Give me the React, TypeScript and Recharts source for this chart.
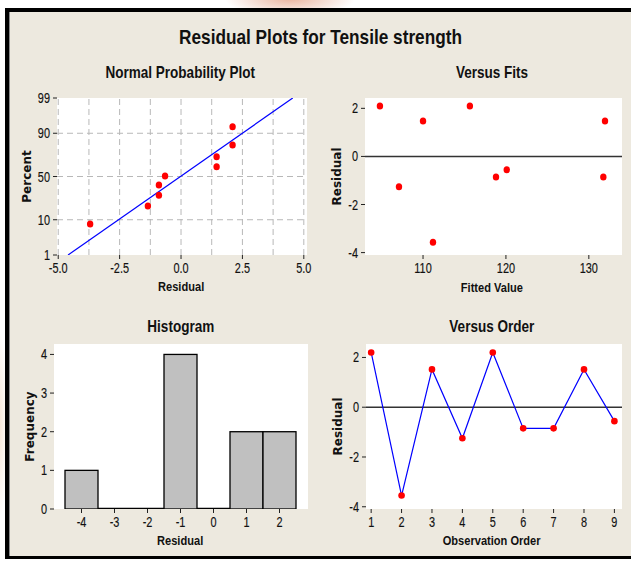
import React from "react";
import {
  ComposedChart,
  ScatterChart,
  LineChart,
  BarChart,
  Scatter,
  Line,
  Bar,
  XAxis,
  YAxis,
  CartesianGrid,
  ReferenceLine,
  ReferenceArea,
} from "recharts";

// Normal probability plot (sorted residuals vs. plotting position, %)
const probResiduals = [-3.7, -1.35, -0.9, -0.9, -0.65, 1.45, 1.45, 2.1, 2.1];
const probPercents = [8, 19, 29, 40, 50.5, 61.5, 72, 82.5, 93];
const fitLineResiduals = [-4.6, 4.55];
const fitLinePercents = [1, 99];
const probTicks = [1, 10, 50, 90, 99];
const probGridPercents = [10, 50, 90];
const probXTicks = [-5, -2.5, 0, 2.5, 5];
const probGridX = [-5, -3.75, -2.5, -1.25, 0, 1.25, 2.5, 3.75, 5];

// Versus fits
const fittedValues = [104.8, 107.1, 110.0, 111.2, 115.65, 118.8, 120.1, 131.75, 131.95];
const fitResiduals = [2.1, -1.26, 1.47, -3.57, 2.1, -0.86, -0.55, -0.86, 1.47];
const fitTicks = [110, 120, 130];

// Histogram
const binCenters = ["-4", "-3", "-2", "-1", "0", "1", "2"];
const binCounts = [1, 0, 0, 4, 0, 2, 2];
const freqTicks = [0, 1, 2, 3, 4];

// Versus order
const observationOrder = [1, 2, 3, 4, 5, 6, 7, 8, 9];
const orderResiduals = [2.2, -3.55, 1.52, -1.25, 2.2, -0.85, -0.85, 1.52, -0.56];

const residualTicks = [-4, -2, 0, 2];

const SANS = "'Liberation Sans', Arial, sans-serif";
const WIDE = "'DejaVu Sans', Verdana, sans-serif";
const INK = "#111";
const SQUEEZE = 0.82;

// inverse normal cdf (Acklam)
function normInv(p: number): number {
  const a = [-39.69683028665376, 220.9460984245205, -275.9285104469687, 138.357751867269, -30.66479806614716, 2.506628277459239];
  const b = [-54.47609879822406, 161.5858368580409, -155.6989798598866, 66.80131188771972, -13.28068155288572];
  const c = [-0.007784894002430293, -0.3223964580411365, -2.400758277161838, -2.549732539343734, 4.374664141464968, 2.938163982698783];
  const d = [0.007784695709041462, 0.3224671290700398, 2.445134137142996, 3.754408661907416];
  const pl = 0.02425;
  if (p < pl) {
    const q = Math.sqrt(-2 * Math.log(p));
    return (((((c[0] * q + c[1]) * q + c[2]) * q + c[3]) * q + c[4]) * q + c[5]) / ((((d[0] * q + d[1]) * q + d[2]) * q + d[3]) * q + 1);
  }
  if (p > 1 - pl) {
    const q = Math.sqrt(-2 * Math.log(1 - p));
    return -(((((c[0] * q + c[1]) * q + c[2]) * q + c[3]) * q + c[4]) * q + c[5]) / ((((d[0] * q + d[1]) * q + d[2]) * q + d[3]) * q + 1);
  }
  const q = p - 0.5;
  const r = q * q;
  return ((((((a[0] * r + a[1]) * r + a[2]) * r + a[3]) * r + a[4]) * r + a[5]) * q) / (((((b[0] * r + b[1]) * r + b[2]) * r + b[3]) * r + b[4]) * r + 1);
}

const z = (pct: number) => normInv(pct / 100);

const probPoints = probResiduals.map((r, i) => ({ residual: r, z: z(probPercents[i]) }));
const fitLine = fitLineResiduals.map((r, i) => ({ residual: r, z: z(fitLinePercents[i]) }));
const fitsData = fittedValues.map((f, i) => ({ fit: f, residual: fitResiduals[i] }));
const histData = binCenters.map((b, i) => ({ bin: b, count: binCounts[i] }));
const orderData = observationOrder.map((o, i) => ({ order: o, residual: orderResiduals[i] }));

const tickStyle = { fontFamily: SANS, fontSize: 14, fill: INK, stroke: INK, strokeWidth: 0.15 };
const yLabelStyle = { fontFamily: WIDE, fontSize: 12, fontWeight: "bold", fill: INK, textAnchor: "middle" };

const yLabel = (value: string, offset: number) => ({ value, angle: -90, position: "insideLeft", offset, style: yLabelStyle });

// narrow tick text (squeezed Liberation Sans, close to the original condensed face)
const narrowTick = (anchor: "middle" | "end", fmt?: (v: any) => string) => (p: any) => {
  const v = fmt ? fmt(p.payload.value) : String(p.payload.value);
  return (
    <g transform={`translate(${p.x},${p.y})`}>
      <text transform="scale(0.78,1)" textAnchor={anchor} dy={anchor === "middle" ? "0.68em" : "0.36em"} style={tickStyle}>
        {v}
      </text>
    </g>
  );
};

const probFormat = (v: number) => {
  let best = probTicks[0];
  probTicks.forEach((p) => {
    if (Math.abs(z(p) - v) < Math.abs(z(best) - v)) best = p;
  });
  return String(best);
};

const redDot = (p: any) => <ellipse cx={p.cx} cy={p.cy} rx={3.2} ry={3.5} fill="#ff0000" />;

const histBar = (p: any) => {
  if (!p.height || p.height < 0.5) {
    return <line x1={p.x} x2={p.x + p.width} y1={p.y} y2={p.y} stroke="#000" strokeWidth={2.5} />;
  }
  return <rect x={p.x} y={p.y} width={p.width} height={p.height} fill="#c0c0c0" stroke="#000" strokeWidth={1.3} />;
};

const axisCommon = {
  axisLine: false,
  tickLine: { stroke: "#222" },
  tickSize: 4,
};

function Frame() {
  return <ReferenceArea fill="none" fillOpacity={0} stroke="#1a1a1a" strokeWidth={1.4} ifOverflow="visible" />;
}

function Txt({ text, cx, cy, size }: { text: string; cx: number; cy: number; size: number }) {
  return (
    <div
      style={{
        position: "absolute",
        left: cx - 250,
        top: cy - size * 0.6,
        width: 500,
        textAlign: "center",
        lineHeight: `${size * 1.2}px`,
        whiteSpace: "nowrap",
      }}
    >
      <span
        style={{
          display: "inline-block",
          transform: `scaleX(${SQUEEZE})`,
          fontSize: size,
          fontWeight: "bold",
          fontFamily: SANS,
          color: INK,
        }}
      >
        {text}
      </span>
    </div>
  );
}

function Pos({ left, top, children }: { left: number; top: number; children: React.ReactNode }) {
  return <div style={{ position: "absolute", left, top }}>{children}</div>;
}

export default function App() {
  return (
    <div style={{ position: "absolute", left: 0, top: 0, width: 631, height: 561, background: "#ffffff", overflow: "hidden" }}>
      {/* faint watermark smudges */}
      <div style={{ position: "absolute", left: 225, top: -18, width: 130, height: 34, borderRadius: "50%", background: "radial-gradient(closest-side, rgba(226,150,120,0.7), rgba(240,200,180,0))" }} />
      <div style={{ position: "absolute", left: -10, top: 330, width: 18, height: 190, borderRadius: "50%", background: "radial-gradient(closest-side, rgba(232,196,160,0.45), rgba(240,220,200,0))" }} />
      {/* panel frame */}
      <div style={{ position: "absolute", left: 9, top: 12, width: 622, height: 544, background: "#ede9df" }} />
      <div style={{ position: "absolute", left: 5, top: 8, width: 626, height: 4, background: "#000" }} />
      <div style={{ position: "absolute", left: 5, top: 8, width: 4, height: 551, background: "#000" }} />
      <div style={{ position: "absolute", left: 9, top: 12, width: 1, height: 544, background: "#8a8a8a" }} />
      <div style={{ position: "absolute", left: 5, top: 556, width: 626, height: 3, background: "#000" }} />

      <Txt text="Residual Plots for Tensile strength" cx={321} cy={37} size={21} />
      <Txt text="Normal Probability Plot" cx={180} cy={73} size={16.5} />
      <Txt text="Versus Fits" cx={492} cy={73} size={16.5} />
      <Txt text="Histogram" cx={181} cy={327} size={16.5} />
      <Txt text="Versus Order" cx={492} cy={327} size={16.5} />

      <Txt text="Residual" cx={181} cy={286} size={13.5} />
      <Txt text="Fitted Value" cx={492} cy={287} size={13.5} />
      <Txt text="Residual" cx={180} cy={540} size={13.5} />
      <Txt text="Observation Order" cx={492} cy={540} size={13.5} />

      <Pos left={0} top={88}>
        <ComposedChart width={320} height={217} margin={{ top: 10, right: 13, left: 0, bottom: 0 }}>
          <CartesianGrid fill="#ffffff" horizontal={false} vertical={false} />
          {probGridX.map((v) => (
            <ReferenceLine key={`gx${v}`} x={v} stroke="#b8b8b8" strokeDasharray="6 4" ifOverflow="visible" />
          ))}
          {probGridPercents.map((p) => (
            <ReferenceLine key={`gy${p}`} y={z(p)} stroke="#b8b8b8" strokeDasharray="6 4" />
          ))}
          <XAxis
            type="number"
            dataKey="residual"
            domain={[-5.05, 5.13]}
            allowDataOverflow
            ticks={probXTicks}
            tick={narrowTick("middle", (v: number) => v.toFixed(1))}
            height={50}
            tickMargin={4}
            {...axisCommon}
          />
          <YAxis
            type="number"
            dataKey="z"
            domain={[z(1), z(99)]}
            allowDataOverflow
            ticks={probTicks.map(z)}
            tick={narrowTick("end", probFormat)}
            width={57}
            tickMargin={3}
            label={yLabel("Percent", 27)}
            {...axisCommon}
          />
          <Line data={fitLine} dataKey="z" stroke="#0000ff" strokeWidth={1.2} dot={false} isAnimationActive={false} />
          <Scatter data={probPoints} dataKey="z" shape={redDot} isAnimationActive={false} />
          {Frame()}
        </ComposedChart>
      </Pos>

      <Pos left={320} top={88}>
        <ScatterChart width={311} height={217} margin={{ top: 10, right: 9, left: 0, bottom: 0 }}>
          <CartesianGrid fill="#ffffff" horizontal={false} vertical={false} />
          <ReferenceLine y={0} stroke="#333" strokeWidth={1.5} />
          <XAxis
            type="number"
            dataKey="fit"
            domain={[103, 134]}
            allowDataOverflow
            ticks={fitTicks}
            tick={narrowTick("middle")}
            height={50}
            tickMargin={4}
            {...axisCommon}
          />
          <YAxis
            type="number"
            dataKey="residual"
            domain={[-4.1, 2.43]}
            allowDataOverflow
            ticks={residualTicks}
            tick={narrowTick("end")}
            width={45}
            tickMargin={3}
            label={yLabel("Residual", 17)}
            {...axisCommon}
          />
          <Scatter data={fitsData} shape={redDot} isAnimationActive={false} />
          {Frame()}
        </ScatterChart>
      </Pos>

      <Pos left={0} top={334}>
        <BarChart
          width={320}
          height={227}
          data={histData}
          margin={{ top: 10, right: 12, left: 0, bottom: 0 }}
          barCategoryGap={0}
          barGap={0}
        >
          <CartesianGrid fill="#ffffff" horizontal={false} vertical={false} />
          <XAxis
            dataKey="bin"
            padding={{ left: 11, right: 12 }}
            tick={narrowTick("middle")}
            height={52}
            tickMargin={4}
            {...axisCommon}
          />
          <YAxis
            type="number"
            domain={[0, 4.27]}
            allowDataOverflow
            ticks={freqTicks}
            tick={narrowTick("end")}
            width={54}
            tickMargin={3}
            label={yLabel("Frequency", 30)}
            {...axisCommon}
          />
          <Bar dataKey="count" shape={histBar} isAnimationActive={false} />
          {Frame()}
        </BarChart>
      </Pos>

      <Pos left={320} top={334}>
        <LineChart width={311} height={227} data={orderData} margin={{ top: 10, right: 9, left: 0, bottom: 0 }}>
          <CartesianGrid fill="#ffffff" horizontal={false} vertical={false} />
          <ReferenceLine y={0} stroke="#333" strokeWidth={1.5} />
          <XAxis
            type="number"
            dataKey="order"
            domain={[0.83, 9.25]}
            allowDataOverflow
            ticks={observationOrder}
            tick={narrowTick("middle")}
            height={52}
            tickMargin={4}
            {...axisCommon}
          />
          <YAxis
            type="number"
            domain={[-4.09, 2.54]}
            allowDataOverflow
            ticks={residualTicks}
            tick={narrowTick("end")}
            width={46}
            tickMargin={3}
            label={yLabel("Residual", 18)}
            {...axisCommon}
          />
          <Line
            dataKey="residual"
            stroke="#0000ff"
            strokeWidth={1.2}
            dot={{ r: 3.3, fill: "#ff0000", stroke: "#ff0000", strokeWidth: 0 }}
            isAnimationActive={false}
          />
          {Frame()}
        </LineChart>
      </Pos>
    </div>
  );
}
